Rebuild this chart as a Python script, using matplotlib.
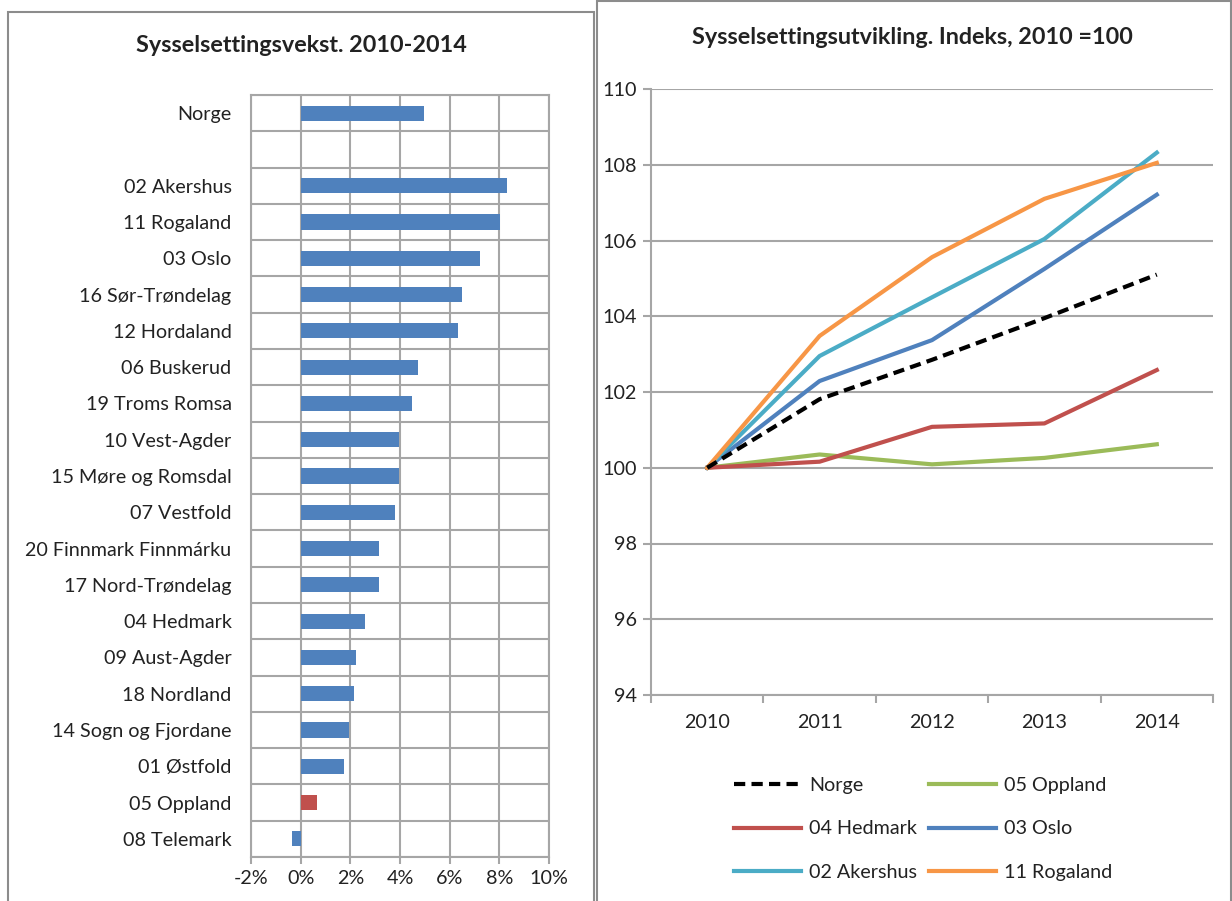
import matplotlib
matplotlib.use("Agg")
import matplotlib.pyplot as plt
from matplotlib.patches import Rectangle
from matplotlib.ticker import FuncFormatter, MultipleLocator
import numpy as np

plt.rcParams['font.family'] = ['Lato', 'DejaVu Sans']

# ---- Left chart data ----
bar_labels = ["Norge", "", "02 Akershus", "11 Rogaland", "03 Oslo", "16 Sør-Trøndelag",
              "12 Hordaland", "06 Buskerud", "19 Troms Romsa", "10 Vest-Agder",
              "15 Møre og Romsdal", "07 Vestfold", "20 Finnmark Finnmárku",
              "17 Nord-Trøndelag", "04 Hedmark", "09 Aust-Agder", "18 Nordland",
              "14 Sogn og Fjordane", "01 Østfold", "05 Oppland", "08 Telemark"]
bar_values = [4.95, np.nan, 8.30, 8.04, 7.22, 6.50, 6.34, 4.74, 4.50, 3.97, 3.97, 3.78,
              3.17, 3.17, 2.60, 2.24, 2.14, 1.93, 1.73, 0.65, -0.33]
bar_colors = ["#4F81BD"] * 19 + ["#C0504D", "#4F81BD"]
bar_ticks = [-2, 0, 2, 4, 6, 8, 10]

# ---- Right chart data ----
years = ["2010", "2011", "2012", "2013", "2014"]
norge = [100, 101.81, 102.85, 103.95, 105.10]
oppland = [100, 100.35, 100.09, 100.26, 100.62]
hedmark = [100, 100.16, 101.08, 101.17, 102.58]
oslo = [100, 102.29, 103.37, 105.25, 107.21]
akershus = [100, 102.95, 104.50, 106.04, 108.32]
rogaland = [100, 103.48, 105.56, 107.10, 108.05]

W, H = 1232, 901
fig = plt.figure(figsize=(W / 100, H / 100), dpi=100)

def fx(px):
    return px / W

def fy(py):
    return 1 - py / H

grid_c = "#A6A6A6"
txt_c = "#222222"
fs = 14.2
tfs = 16.8

# Panel borders
fig.patches.append(Rectangle((fx(8), fy(905)), fx(594) - fx(8), fy(12) - fy(905),
                             transform=fig.transFigure, fill=False, ec="#8C8C8C", lw=1.5))
fig.patches.append(Rectangle((fx(597), fy(905)), fx(1231) - fx(597), fy(0.5) - fy(905),
                             transform=fig.transFigure, fill=False, ec="#8C8C8C", lw=1.5))

# ---- Left bar chart ----
ax1 = fig.add_axes([fx(251), fy(857), fx(549) - fx(251), fy(95) - fy(857)])
n = len(bar_labels)
ypos = np.arange(n)
ax1.barh(ypos, bar_values, height=0.42, color=bar_colors, zorder=3)
ax1.set_ylim(n - 0.5, -0.5)
ax1.set_xlim(-2, 10)
ax1.set_xticks(bar_ticks)
ax1.xaxis.set_major_formatter(FuncFormatter(lambda v, p: f"{int(v)}%"))
ax1.set_yticks(ypos)
ax1.set_yticklabels(bar_labels)
ax1.set_yticks(np.arange(n + 1) - 0.5, minor=True)
ax1.grid(True, axis='x', which='major', color=grid_c, lw=1.5, zorder=0)
ax1.grid(True, axis='y', which='minor', color=grid_c, lw=1.5, zorder=0)
ax1.tick_params(axis='y', which='both', length=0, pad=14, labelsize=fs, labelcolor=txt_c)
ax1.tick_params(axis='x', length=5, width=1.5, color=grid_c, labelsize=fs,
                labelcolor=txt_c, pad=4)
for s in ax1.spines.values():
    s.set_color(grid_c)
    s.set_linewidth(1.5)
fig.text(fx(301), fy(45), "Sysselsettingsvekst. 2010-2014", fontsize=tfs,
         fontweight='bold', color=txt_c, ha='center', va='center')

# ---- Right line chart ----
ax2 = fig.add_axes([fx(651), fy(695), fx(1213) - fx(651), fy(89) - fy(695)])
x = np.arange(len(years))
l_norge, = ax2.plot(x, norge, color="black", lw=3, ls=(0, (2.7, 1.5)), label="Norge", zorder=5)
l_opp, = ax2.plot(x, oppland, color="#9BBB59", lw=3, label="05 Oppland")
l_hed, = ax2.plot(x, hedmark, color="#C0504D", lw=3, label="04 Hedmark")
l_oslo, = ax2.plot(x, oslo, color="#4F81BD", lw=3, label="03 Oslo")
l_ak, = ax2.plot(x, akershus, color="#4BACC6", lw=3, label="02 Akershus")
l_rog, = ax2.plot(x, rogaland, color="#F79646", lw=3, label="11 Rogaland")
ax2.set_xlim(-0.5, len(years) - 0.5)
ax2.set_ylim(94, 110)
ax2.yaxis.set_major_locator(MultipleLocator(2))
ax2.set_xticks(x)
ax2.set_xticklabels(years)
ax2.set_xticks(np.arange(len(years) + 1) - 0.5, minor=True)
ax2.tick_params(axis='x', which='major', length=0, labelsize=fs, labelcolor=txt_c, pad=14)
ax2.tick_params(axis='x', which='minor', length=6, width=1.5, color=grid_c)
ax2.tick_params(axis='y', length=6, width=1.5, color=grid_c, labelsize=fs,
                labelcolor=txt_c, pad=4)
ax2.grid(True, axis='y', color=grid_c, lw=1.5, zorder=0)
for side in ['top', 'right']:
    ax2.spines[side].set_visible(False)
for side in ['left', 'bottom']:
    ax2.spines[side].set_color(grid_c)
    ax2.spines[side].set_linewidth(1.5)
fig.text(fx(912), fy(38), "Sysselsettingsutvikling. Indeks, 2010 =100", fontsize=tfs,
         fontweight='bold', color=txt_c, ha='center', va='center')

handles = [l_norge, l_hed, l_ak, l_opp, l_oslo, l_rog]
leg = fig.legend(handles=handles, labels=[h.get_label() for h in handles], ncol=2,
                 loc='center', bbox_to_anchor=(fx(923), fy(829)), frameon=False,
                 fontsize=fs, handlelength=3.4, handletextpad=0.4, columnspacing=0.6,
                 labelspacing=1.35, labelcolor=txt_c)

fig.savefig("out.png", dpi=100)
